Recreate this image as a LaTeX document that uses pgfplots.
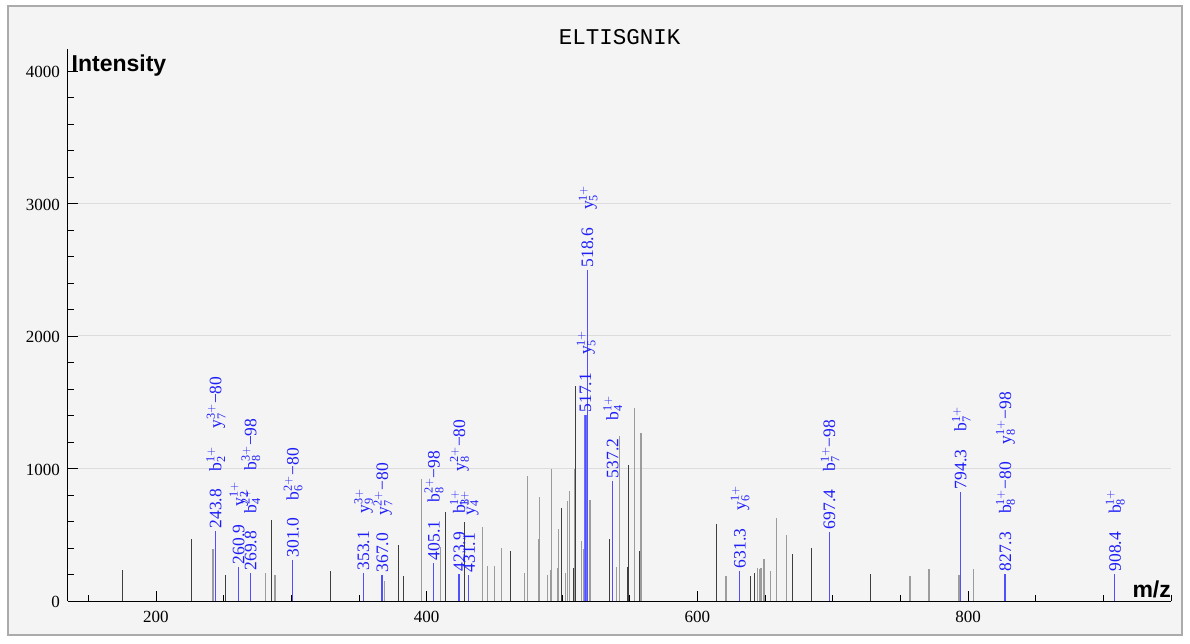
\documentclass[border=0pt]{standalone}
\usepackage{fontspec}
\setmainfont{Liberation Serif}
\newfontfamily\monofont{Liberation Mono}
\newfontfamily\sansfont{Liberation Sans}
\usepackage{pgfplots}
\pgfplotsset{compat=1.18}
\definecolor{bg}{HTML}{F4F4F4}
\definecolor{framec}{HTML}{ABABAB}
\definecolor{gridc}{HTML}{DCDCDC}
\definecolor{darkpk}{HTML}{3E3E3E}
\definecolor{lightpk}{HTML}{9C9C9C}
\definecolor{bluepk}{RGB}{80,80,255}
\definecolor{bluebundle}{RGB}{110,110,255}
\definecolor{bluelbl}{RGB}{30,30,250}
\NewDocumentCommand\ion{mmm}{#1$_{\mathrm{#2}}^{\mathrm{#3}}$}
\protected\def\lbl{\hspace{18pt}}
\begin{document}
\begin{tikzpicture}
\path[use as bounding box, fill=white] (-68pt,-42pt) rectangle (1122pt,601pt);
\draw[framec, line width=2pt, fill=bg] (-60pt,-34pt) rectangle (1114pt,595pt);
\begin{axis}[
  at={(0pt,0pt)}, anchor=south west,
  scale only axis, width=1103pt, height=552pt,
  xmin=135, xmax=950, ymin=0, ymax=4166,
  clip=false,
  axis x line*=bottom, axis y line*=left,
  axis line style={black, line width=1pt},
  xtick={200,400,600,800},
  minor xtick={150,200,...,950},
  ytick={0,1000,2000,3000,4000},
  minor ytick={200,400,...,4000},
  tick align=inside,
  major tick length=10pt, minor tick length=6pt,
  every tick/.style={black, line width=0.9pt},
  tick label style={font=\fontsize{17}{17}\selectfont},
  /pgf/number format/assume math mode=true,
  /pgf/number format/1000 sep={},
  yticklabel style={anchor=east, inner sep=0pt, xshift=-8pt, yshift=-1pt},
  xticklabel style={anchor=north, inner sep=0pt, yshift=-9.5pt},
  title={ELTISGNIK},
  every axis title/.style={at={(axis description cs:0.5,1)}, anchor=base, yshift=4pt, inner sep=0pt, font=\monofont\fontsize{22.5}{23}\selectfont},
  xlabel={m/z},
  every axis x label/.style={at={(axis description cs:1,0)}, anchor=base east, yshift=4pt, inner sep=0pt, font=\sansfont\bfseries\fontsize{23}{23}\selectfont},
  ylabel={Intensity},
  every axis y label/.style={at={(axis description cs:0,1)}, anchor=north west, xshift=3.5pt, yshift=-6pt, inner sep=0pt, font=\sansfont\bfseries\fontsize{23}{23}\selectfont},
]
% grid lines
\addplot[gridc, line width=1pt, mark=none, forget plot] coordinates {(142.4,1000) (950,1000)};
\addplot[gridc, line width=1pt, mark=none, forget plot] coordinates {(142.4,2000) (950,2000)};
\addplot[gridc, line width=1pt, mark=none, forget plot] coordinates {(142.4,3000) (950,3000)};
% light gray peaks
\addplot[ycomb, draw=lightpk, line width=1.3pt, mark=none, forget plot] coordinates {
(242.1,390) (281,211) (288,196) (368.8,150) (396,921) (410,410) (441,556) (445,267)
(450.2,264) (455.3,397) (472.3,214) (474.3,943) (482.4,468) (483.4,787) (489.5,196)
(491.3,234) (492.3,994) (496.5,247) (497.4,543) (502.4,214) (503.9,755) (505.5,830)
(509.2,994) (514.4,453) (516.1,390) (520.6,762) (540.2,254) (542.4,1245) (553.5,1459)
(558.4,1270) (621.1,189) (644.3,252) (646.3,239) (647,247) (649.2,315) (654,226)
(658.3,629) (666.1,498) (757.2,189) (771.2,242) (793.3,196) (804.2,239)
};
% dark gray peaks
\addplot[ycomb, draw=darkpk, line width=1pt, mark=none, forget plot] coordinates {
(175.1,234) (226.3,468) (251.2,196) (285,611) (328.6,226) (378.9,423) (383,191) (414,674)
(428,594) (462.2,377) (499.3,700) (508.3,247) (510.2,1625) (535.3,468) (548.3,259)
(549.3,1029) (557.4,375) (614.2,579) (639.3,191) (642.3,209) (670.3,355) (684.3,397)
(727.9,204)
};
% thick blue bundle at 517
\addplot[ycomb, draw=bluebundle, line width=3.4pt, mark=none, forget plot] coordinates {(517.6,1404)};
% annotated peaks
\addplot[ycomb, draw=bluepk, line width=1.3pt, mark=none, forget plot,
  point meta=explicit symbolic,
  nodes near coords={\pgfplotspointmeta},
  nodes near coords style={rotate=90, anchor=west, inner xsep=2pt, inner ysep=0pt,
    text=bluelbl, font=\fontsize{17.5}{17.5}\selectfont, text height=12pt, text depth=0pt}]
coordinates {
(243.8,528) [243.8\lbl\ion{b}{2}{1+}\lbl\ion{y}{7}{3+}−80]
(260.9,259) [260.9\lbl\ion{y}{2}{1+}]
(269.8,211) [269.8\lbl\ion{b}{4}{2+}\lbl\ion{b}{8}{3+}−98]
(301.0,309) [301.0\lbl\ion{b}{6}{2+}−80]
(353.1,211) [353.1\lbl\ion{y}{9}{3+}]
(367.0,196) [367.0\lbl\ion{y}{7}{2+}−80]
(405.1,289) [405.1\lbl\ion{b}{8}{2+}−98]
(423.9,204) [423.9\lbl\ion{b}{3}{1+}\lbl\ion{y}{8}{2+}−80]
(431.1,196) [431.1\lbl\ion{y}{4}{1+}]
(517.1,1404) [517.1\lbl\ion{y}{5}{1+}]
(518.6,2498) [518.6\lbl\ion{y}{5}{1+}]
(537.2,908) [537.2\lbl\ion{b}{4}{1+}]
(631.3,229) [631.3\lbl\ion{y}{6}{1+}]
(697.4,523) [697.4\lbl\ion{b}{7}{1+}−98]
(794.3,825) [794.3\lbl\ion{b}{7}{1+}]
(827.3,204) [827.3\lbl\ion{b}{8}{1+}−80\lbl\ion{y}{8}{1+}−98]
(908.4,204) [908.4\lbl\ion{b}{8}{1+}]
};
\end{axis}
\end{tikzpicture}
\end{document}
